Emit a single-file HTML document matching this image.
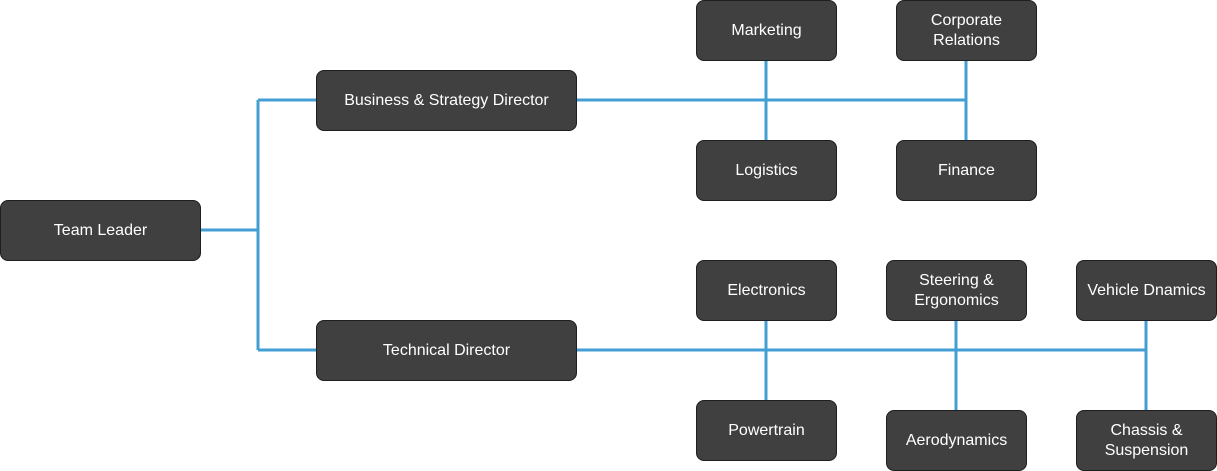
<!DOCTYPE html>
<html><head><style>
body{margin:0;width:1217px;height:471px;background:#fff;position:relative;overflow:hidden;font-family:"Liberation Sans",sans-serif}
.b{position:absolute;box-sizing:border-box;background:#404040;border:1px solid #1e1e1e;border-radius:8px;color:#fff;font-size:16px;display:flex;align-items:center;justify-content:center;text-align:center;line-height:20px}
svg{position:absolute;left:0;top:0}
</style></head><body>
<svg width="1217" height="471"><g stroke="#439fd3" stroke-width="3" fill="none">
<path d="M200 230H258M258 100V350M258 100H316M258 350H316"/>
<path d="M576 100H966M766 60V140M966 60V140"/>
<path d="M576 350H1146M766 320V400M956 320V410M1146 320V410"/>
</g></svg>
<div class="b" style="left:0;top:200px;width:201px;height:61px">Team Leader</div>
<div class="b" style="left:316px;top:70px;width:261px;height:61px">Business &amp; Strategy Director</div>
<div class="b" style="left:316px;top:320px;width:261px;height:61px">Technical Director</div>
<div class="b" style="left:696px;top:0;width:141px;height:61px">Marketing</div>
<div class="b" style="left:896px;top:0;width:141px;height:61px">Corporate<br>Relations</div>
<div class="b" style="left:696px;top:140px;width:141px;height:61px">Logistics</div>
<div class="b" style="left:896px;top:140px;width:141px;height:61px">Finance</div>
<div class="b" style="left:696px;top:260px;width:141px;height:61px">Electronics</div>
<div class="b" style="left:886px;top:260px;width:141px;height:61px">Steering &amp;<br>Ergonomics</div>
<div class="b" style="left:1076px;top:260px;width:141px;height:61px">Vehicle Dnamics</div>
<div class="b" style="left:696px;top:400px;width:141px;height:61px">Powertrain</div>
<div class="b" style="left:886px;top:410px;width:141px;height:61px">Aerodynamics</div>
<div class="b" style="left:1076px;top:410px;width:141px;height:61px">Chassis &amp;<br>Suspension</div>
</body></html>
